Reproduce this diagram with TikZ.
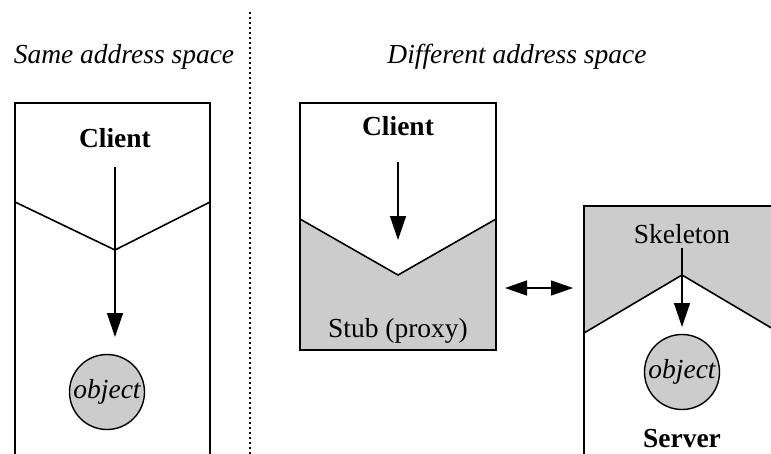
\documentclass[tikz,border=0pt]{standalone}
\usepackage{fontspec}
\setmainfont{Liberation Serif}
\usetikzlibrary{arrows.meta}
\definecolor{greyfill}{gray}{0.8}
\tikzset{
  wall/.style={line width=1.6pt, line join=miter},
  flow/.style={line width=1.4pt, -{Triangle[length=24pt,width=16pt]}},
  link/.style={line width=1.4pt, {Triangle[length=22pt,width=15pt]}-{Triangle[length=22pt,width=15pt]}},
  caption/.style={anchor=base, inner sep=0pt, font=\fontsize{27.5}{33}\selectfont\itshape},
  title/.style={anchor=base, inner sep=0pt, font=\fontsize{27.5}{33}\selectfont\bfseries},
  plain/.style={anchor=base, inner sep=0pt, font=\fontsize{27.5}{33}\selectfont},
  obj/.style={circle, draw, line width=1.4pt, fill=greyfill, minimum size=75pt, inner sep=0pt,
              font=\fontsize{27.5}{33}\selectfont\itshape},
}
\begin{document}
\begin{tikzpicture}[x=1pt,y=-1pt]
\clip (0,0) rectangle (771,453);
\fill[white] (0,0) rectangle (771,453);

% separator between the two halves
\draw[line width=1.6pt, dash pattern=on 1.6pt off 3.4pt] (250,12) -- (250,460);

% headings
\node[caption] (same) at (124,63) {Same address space};
\node[caption] (diff) at (517,63) {Different address space};

% same address space: client calling the object directly
\draw[wall] (15,470) -- (15,103) -- (210,103) -- (210,470);
\draw[wall] (15,202) -- (115,250) -- (210,202);
\node[title] (lclient) at (115,147) {Client};
\node[obj] (lobj) at (107,392) {object};
\coordinate (lfrom) at (115,167);
\coordinate (lto) at (115,337);
\draw[flow] (lfrom) -- (lto);

% different address space: client with stub
\fill[greyfill] (300,219) -- (398,275) -- (496,219) -- (496,350) -- (300,350) -- cycle;
\draw[wall] (300,103) rectangle (496,350);
\draw[wall] (300,219) -- (398,275) -- (496,219);
\node[title] (rclient) at (398,135) {Client};
\node[plain] (stub) at (398,337) {Stub (proxy)};
\coordinate (rfrom) at (398,162);
\coordinate (rto) at (398,240);
\draw[flow] (rfrom) -- (rto);

% server with skeleton
\fill[greyfill] (584,206) -- (790,206) -- (790,339) -- (682,275) -- (584,333) -- cycle;
\draw[wall] (584,470) -- (584,206) -- (790,206);
\draw[wall] (584,333) -- (682,275) -- (790,339);
\node[plain] (skel) at (682,243) {Skeleton};
\node[obj] (sobj) at (682,372) {object};
\node[title] (server) at (682,447) {Server};
\coordinate (sfrom) at (682,248);
\coordinate (sto) at (682,327);
\draw[flow] (sfrom) -- (sto);

% connection between stub and skeleton
\coordinate (lnkl) at (505,288);
\coordinate (lnkr) at (573,288);
\draw[link] (lnkl) -- (lnkr);
\end{tikzpicture}
\end{document}
